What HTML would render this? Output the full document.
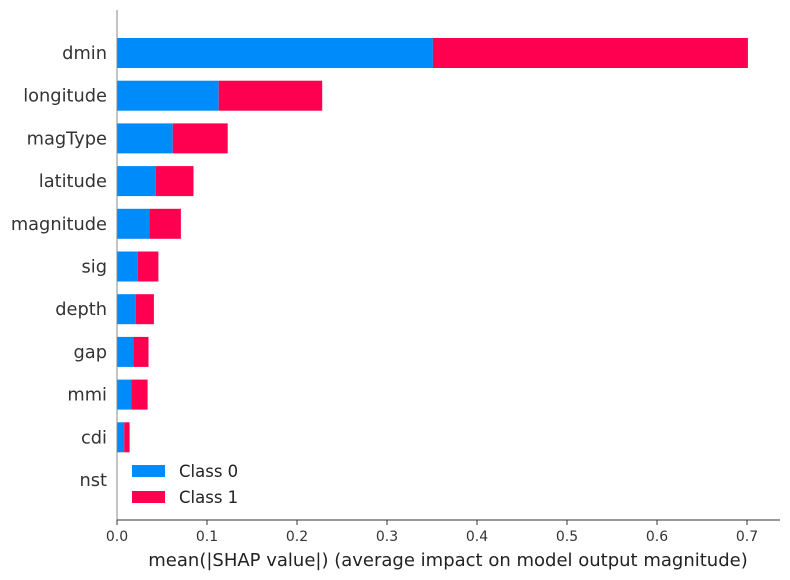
<!DOCTYPE html>
<html><head><meta charset="utf-8"><style>
body{margin:0;background:#fff;}
svg{display:block;font-family:"DejaVu Sans","Liberation Sans",sans-serif;}
</style></head><body>
<svg id="chart" width="790" height="580">
<g id="bars"></g>
<g id="axes"></g>
</svg>
<script>
const features = ["dmin","longitude","magType","latitude","magnitude","sig","depth","gap","mmi","cdi","nst"];
const class0 = [0.351,0.113,0.062,0.043,0.036,0.023,0.021,0.018,0.016,0.008,0];
const class1 = [0.350,0.115,0.061,0.042,0.035,0.023,0.020,0.017,0.018,0.006,0];
const xTicks = [0,0.1,0.2,0.3,0.4,0.5,0.6,0.7];
const xTickLabels = ["0.0","0.1","0.2","0.3","0.4","0.5","0.6","0.7"];
const NS="http://www.w3.org/2000/svg";
const x0=117, xs=900, top0=53, step=42.7, bh=30;
const X=v=>x0+v*xs, Y=i=>top0+i*step;
const bars=document.getElementById('bars'), axes=document.getElementById('axes');
function mk(tag,attrs,parent){const e=document.createElementNS(NS,tag);for(const k in attrs)e.setAttribute(k,attrs[k]);parent.appendChild(e);return e;}
features.forEach((f,i)=>{
  const b0=mk('rect',{x:X(0),y:Y(i)-bh/2,width:X(class0[i])-X(0),height:bh,fill:'#008bfb'},bars);
  
  
  const b1=mk('rect',{x:X(class0[i]),y:Y(i)-bh/2,width:X(class0[i]+class1[i])-X(class0[i]),height:bh,fill:'#ff0051'},bars);
  
  
  const t=mk('text',{x:107,y:Y(i)+6,'text-anchor':'end','font-size':17.8,fill:'#333'},axes);
  t.textContent=f;
  
  
});
const sp=mk('line',{x1:117,y1:10,x2:117,y2:520,stroke:'#888','stroke-width':1},axes);


const bx=mk('line',{x1:117,y1:520,x2:780,y2:520,stroke:'#333','stroke-width':1},axes);


xTicks.forEach((v,i)=>{
  const tk=mk('line',{x1:X(v),y1:520,x2:X(v),y2:525,stroke:'#333'},axes);
  
  
  const tl=mk('text',{x:X(v),y:541,'text-anchor':'middle','font-size':14,fill:'#333'},axes);
  tl.textContent=xTickLabels[i];
  
  
});
const xt=mk('text',{x:448,y:566,'text-anchor':'middle','font-size':18,fill:'#222'},axes);
xt.textContent='mean(|SHAP value|) (average impact on model output magnitude)';


[['Class 0','#008bfb',465],['Class 1','#ff0051',491]].forEach(([l,c,y])=>{
  const r=mk('rect',{x:132,y:y,width:33,height:12,fill:c},axes);
  
  
  const t=mk('text',{x:179,y:y+12,'font-size':16.5,fill:'#222'},axes);
  t.textContent=l;
  
  
});
</script>
</body></html>
